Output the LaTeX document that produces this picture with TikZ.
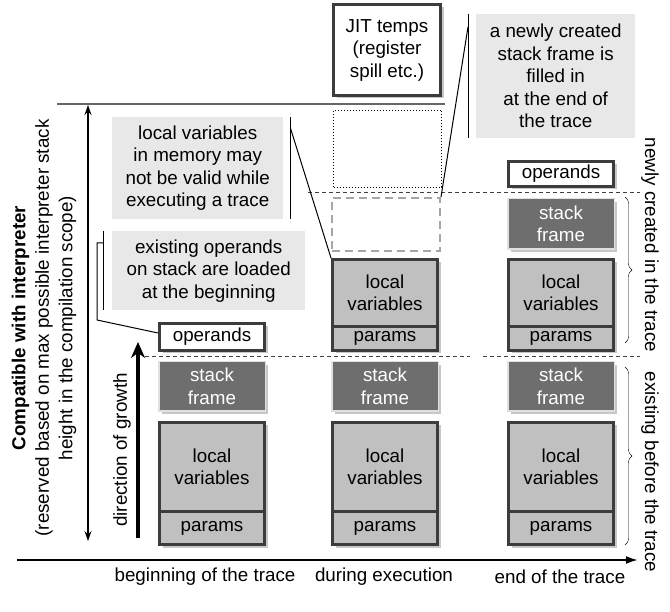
\documentclass[tikz,border=0pt]{standalone}
\usepackage{fontspec}
\setmainfont{Liberation Sans}
\usetikzlibrary{arrows.meta,shadows,decorations.pathreplacing}
\definecolor{edge}{HTML}{3C3C3C}
\definecolor{slot}{HTML}{C0C0C0}
\definecolor{framefill}{HTML}{6E6E6E}
\definecolor{notefill}{HTML}{E8E8E8}
\begin{document}
\begin{tikzpicture}[x=1pt,y=-1pt,font=\fontsize{18.8}{22.5}\selectfont,
 shade/.style={drop shadow={shadow xshift=3pt,shadow yshift=-3pt,fill=black!22,opacity=1}},
 cell/.style={shade,draw=edge,line width=3pt,fill=slot,anchor=north west,inner sep=0pt,minimum width=105pt,align=center},
 opnd/.style={cell,fill=white},
 frm/.style={shade,draw=black!12,line width=1.5pt,fill=framefill,text=white,anchor=north west,inner sep=0pt,minimum width=106.5pt,align=center},
 note/.style={fill=notefill,anchor=north west,inner sep=0pt,align=center},
 level/.style={black!75,line width=1pt,dash pattern=on 4pt off 3pt},
 bar/.style={line width=1pt}]
\useasboundingbox (0,0) rectangle (670,612);

\foreach \c/\x in {a/158,b/331,c/507}{
  \node[frm,minimum height=49.5pt] (sf\c) at (\x,361) {stack\\frame};
  \node[cell,minimum height=89pt] (lv\c) at (\x,421) {local\\variables};
  \node[cell,minimum height=33pt] (pa\c) at ([yshift=3pt]lv\c.south west) {params};
}
\node[opnd,minimum height=27pt] (opa) at (158,322) {operands};

\node[opnd,minimum width=107pt,minimum height=91pt] (jit) at (332,3) {JIT temps\\(register\\spill etc.)};
\node[draw,dotted,line width=1pt,anchor=north west,minimum width=108pt,minimum height=77pt] (spill) at (333,110) {};
\node[draw=black!35,dash pattern=on 8pt off 5pt,line width=2pt,anchor=north west,minimum width=108pt,minimum height=53pt] (gap) at (331,197) {};
\node[cell,minimum height=67pt] (lvbu) at (331,258) {local\\variables};
\node[cell,minimum height=24pt] (pabu) at ([yshift=3pt]lvbu.south west) {params};

\node[opnd,minimum height=25pt] (opc) at (507,160) {operands};
\node[frm,minimum height=50.5pt] (sfcu) at (507,198) {stack\\frame};
\node[cell,minimum height=67pt] (lvcu) at (507,258) {local\\variables};
\node[cell,minimum height=24pt] (pacu) at ([yshift=3pt]lvcu.south west) {params};

\draw[level] (145,357) -- (470,357); \draw[level] (483,357) -- (640,357); \draw[level] (308,193) -- (640,193);

\node[note,minimum width=171pt,minimum height=102pt] (nvalid) at (112,117) {local variables\\in memory may\\not be valid while\\executing a trace};
\node[note,minimum width=193pt,minimum height=79pt] (nload) at (112,231) {existing operands\\on stack are loaded\\at the beginning};
\node[note,minimum width=159pt,minimum height=124pt] (nfill) at (476,14) {a newly created\\stack frame is\\filled in\\at the end of\\the trace};

\draw[bar] ([xshift=7pt]nvalid.north east) -- ([xshift=7pt]nvalid.south east);
\draw[bar] ([xshift=7pt,yshift=-11pt]nvalid.north east) -- (lvbu.north west);
\draw[bar] ([xshift=-9pt]nload.north west) -- ([xshift=-9pt]nload.south west);
\draw[bar] ([xshift=-9pt,yshift=-12pt]nload.north west) -- ++(-6,0) -- ++(0,77) -- ([yshift=4pt]opa.west);
\draw[bar] ([xshift=-8pt]nfill.north west) -- ([xshift=-8pt]nfill.south west);
\draw[bar] ([xshift=-8pt,yshift=-13pt]nfill.north west) -- (gap.north east);

\draw[black!60,line width=1.5pt] (57,104) -- (445,104);
\draw[line width=1.2pt,{Stealth[length=10pt,width=7pt]}-{Stealth[length=10pt,width=7pt]}] (88,105) -- (88,541);
\draw[line width=4pt,-{Stealth[length=16pt,width=14pt]}] (138,538) -- (138,342);
\draw[line width=2pt,-{Latex[length=12pt,width=8pt]}] (17,560) -- (638,560);

\node[rotate=90,align=center,font=\fontsize{18.8}{23.5}\selectfont] (scope) at (44,328)
  {\textbf{Compatible with interpreter}\\(reserved based on max possible interpreter stack\\height in the compilation scope)};
\node[rotate=90] (growth) at (122,450) {direction of growth};

\node (tbegin) at (205,577) {beginning of the trace};
\node (tduring) at (384,577) {during execution};
\node (tend) at (560,577) {end of the trace};

\draw[decorate,decoration={brace,amplitude=7pt}] (625,197) -- (625,343);
\draw[decorate,decoration={brace,amplitude=7pt}] (625,367) -- (625,545);
\node[rotate=-90] (newly) at (650,245) {newly created in the trace};
\node[rotate=-90] (before) at (650,472) {existing before the trace};
\end{tikzpicture}
\end{document}
